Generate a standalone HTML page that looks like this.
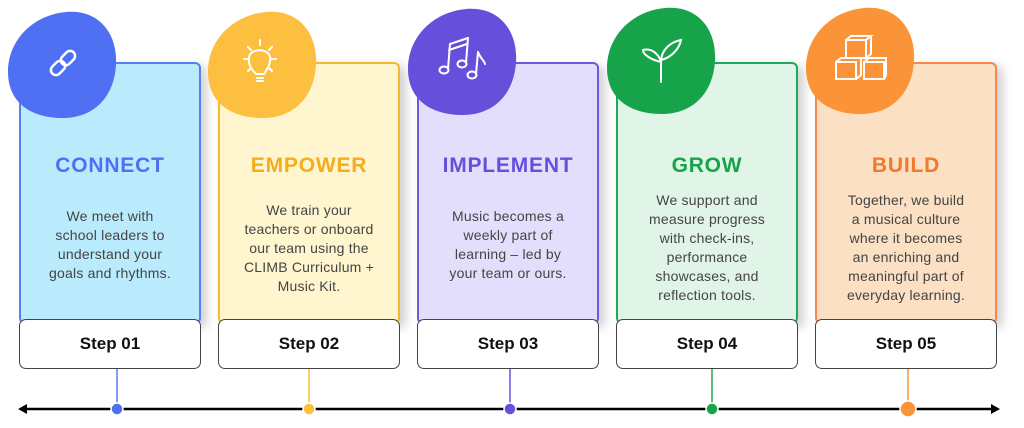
<!DOCTYPE html>
<html><head><meta charset="utf-8"><style>
body{margin:0;width:1024px;height:428px;background:#fff;position:relative;overflow:hidden;font-family:"Liberation Sans",sans-serif}
.card{position:absolute;top:62px;width:182px;height:262px;border:2px solid;border-radius:6px;box-sizing:border-box;box-shadow:6px 4px 10px rgba(0,0,0,0.18)}
.title{position:absolute;top:154px;width:182px;text-align:center;font-weight:bold;font-size:21px;letter-spacing:0.8px}
.body{position:absolute;width:182px;text-align:center;font-size:14px;line-height:19px;color:#444;letter-spacing:0.2px}
.step{position:absolute;top:319px;width:182px;height:50px;box-sizing:border-box;border:1.5px solid #444;border-radius:7px;background:#fff;text-align:center;line-height:47px;font-weight:bold;font-size:17px;color:#111}
svg{position:absolute;left:0;top:0}
</style></head><body>
<div class="card" style="left:19px;background:#b9ebfd;border-color:#5b7cf5"></div>
<div class="card" style="left:218px;background:#fff6cf;border-color:#f5b82e"></div>
<div class="card" style="left:417px;background:#e4defd;border-color:#6f58dc"></div>
<div class="card" style="left:616px;background:#e0f5e8;border-color:#22a85a"></div>
<div class="card" style="left:815px;background:#fbe0c4;border-color:#f5884a"></div>

<svg width="1024" height="428" viewBox="0 0 1024 428">
<defs><path id="b" d="M0 62 C0 30 25 5 58 2 C92 -1 110 25 108 55 C106 88 85 108 55 108 C22 108 0 92 0 62 Z"/></defs>
<use href="#b" x="8" y="10" fill="#5070f4"/>
<use href="#b" x="208" y="10" fill="#fcbf3f"/>
<use href="#b" x="408" y="7" fill="#6650db"/>
<use href="#b" x="607" y="6" fill="#16a34a"/>
<use href="#b" x="806" y="6" fill="#fb9438"/>
<g fill="none" stroke="#fff" stroke-width="2.5" stroke-linecap="round">
<g transform="translate(63,63) rotate(-45)"><rect x="-15" y="-5" width="16" height="10" rx="5"/><rect x="-1" y="-5" width="16" height="10" rx="5"/></g>
<g stroke-width="2"><path d="M256 74 C250 68 248 63 249 57 C251 48 268 48 270 57 C271 63 268 68 264 74 Z"/><line x1="257" y1="78" x2="263" y2="78"/><line x1="257" y1="81" x2="263" y2="81"/><line x1="260" y1="40" x2="260" y2="45"/><line x1="244" y1="59" x2="249" y2="59"/><line x1="271" y1="59" x2="276" y2="59"/><line x1="248" y1="47" x2="251" y2="50"/><line x1="272" y1="47" x2="269" y2="50"/><line x1="248" y1="71" x2="251" y2="68"/><line x1="272" y1="71" x2="269" y2="68"/></g>
<g stroke-width="2"><ellipse cx="444" cy="70" rx="4.5" ry="3.5"/><ellipse cx="462" cy="64" rx="4.5" ry="3.5"/><line x1="448" y1="69" x2="450" y2="44"/><line x1="466" y1="63" x2="468" y2="38"/><line x1="450" y1="44" x2="468" y2="38"/><line x1="449" y1="50" x2="467" y2="44"/><ellipse cx="472" cy="75" rx="4.5" ry="3.5"/><line x1="476" y1="74" x2="478" y2="52"/><path d="M478 52 C480 58 484 60 485 64"/></g>
<g stroke-width="2"><line x1="661" y1="82" x2="661" y2="60"/><path d="M661 62 C652 60 643 55 643 50 C650 48 658 52 661 62 Z"/><path d="M661 60 C662 50 670 42 681 40 C679 50 670 58 661 60 Z"/></g>
<g stroke-width="2"><rect x="846" y="40" width="20" height="18"/><path d="M846 40 l5 -4 h20 l-5 4 M871 36 v18 l-5 4"/><rect x="836" y="62" width="20" height="17"/><path d="M836 62 l5 -4 h20 M861 58 v17 l-5 4"/><rect x="864" y="62" width="20" height="17"/><path d="M864 62 l5 -4 h17 v17 l-2 4"/></g>
</g>
<line x1="24" y1="409" x2="992" y2="409" stroke="#000" stroke-width="2.5"/>
<polygon points="18,409 27,404 27,414" fill="#000"/>
<polygon points="1000,409 991,404 991,414" fill="#000"/>
<line x1="117" y1="369" x2="117" y2="409" stroke="#5b7cf5" stroke-width="1.5"/>
<line x1="309" y1="369" x2="309" y2="409" stroke="#fcbf3f" stroke-width="1.5"/>
<line x1="510" y1="369" x2="510" y2="409" stroke="#6650db" stroke-width="1.5"/>
<line x1="712" y1="369" x2="712" y2="409" stroke="#22a85a" stroke-width="1.5"/>
<line x1="908" y1="369" x2="908" y2="409" stroke="#fb9438" stroke-width="1.5"/>
<circle cx="117" cy="409" r="6" fill="#5070f4" stroke="#fff" stroke-width="1.5"/>
<circle cx="309" cy="409" r="6" fill="#fcbf3f" stroke="#fff" stroke-width="1.5"/>
<circle cx="510" cy="409" r="6" fill="#6650db" stroke="#fff" stroke-width="1.5"/>
<circle cx="712" cy="409" r="6" fill="#16a34a" stroke="#fff" stroke-width="1.5"/>
<circle cx="908" cy="409" r="8" fill="#fb9438" stroke="#fff" stroke-width="1.5"/>
</svg>

<div class="title" style="left:19px;color:#5070f4">CONNECT</div>
<div class="title" style="left:218px;color:#f2ae1f">EMPOWER</div>
<div class="title" style="left:417px;color:#6650db">IMPLEMENT</div>
<div class="title" style="left:616px;color:#16a34a">GROW</div>
<div class="title" style="left:815px;color:#f07a2a">BUILD</div>

<div class="body" style="left:19px;top:207px">We meet with<br>school leaders to<br>understand your<br>goals and rhythms.</div>
<div class="body" style="left:218px;top:201px">We train your<br>teachers or onboard<br>our team using the<br>CLIMB Curriculum +<br>Music Kit.</div>
<div class="body" style="left:417px;top:207px">Music becomes a<br>weekly part of<br>learning – led by<br>your team or ours.</div>
<div class="body" style="left:616px;top:191px">We support and<br>measure progress<br>with check-ins,<br>performance<br>showcases, and<br>reflection tools.</div>
<div class="body" style="left:815px;top:191px">Together, we build<br>a musical culture<br>where it becomes<br>an enriching and<br>meaningful part of<br>everyday learning.</div>

<div class="step" style="left:19px">Step 01</div>
<div class="step" style="left:218px">Step 02</div>
<div class="step" style="left:417px">Step 03</div>
<div class="step" style="left:616px">Step 04</div>
<div class="step" style="left:815px">Step 05</div>
</body></html>
